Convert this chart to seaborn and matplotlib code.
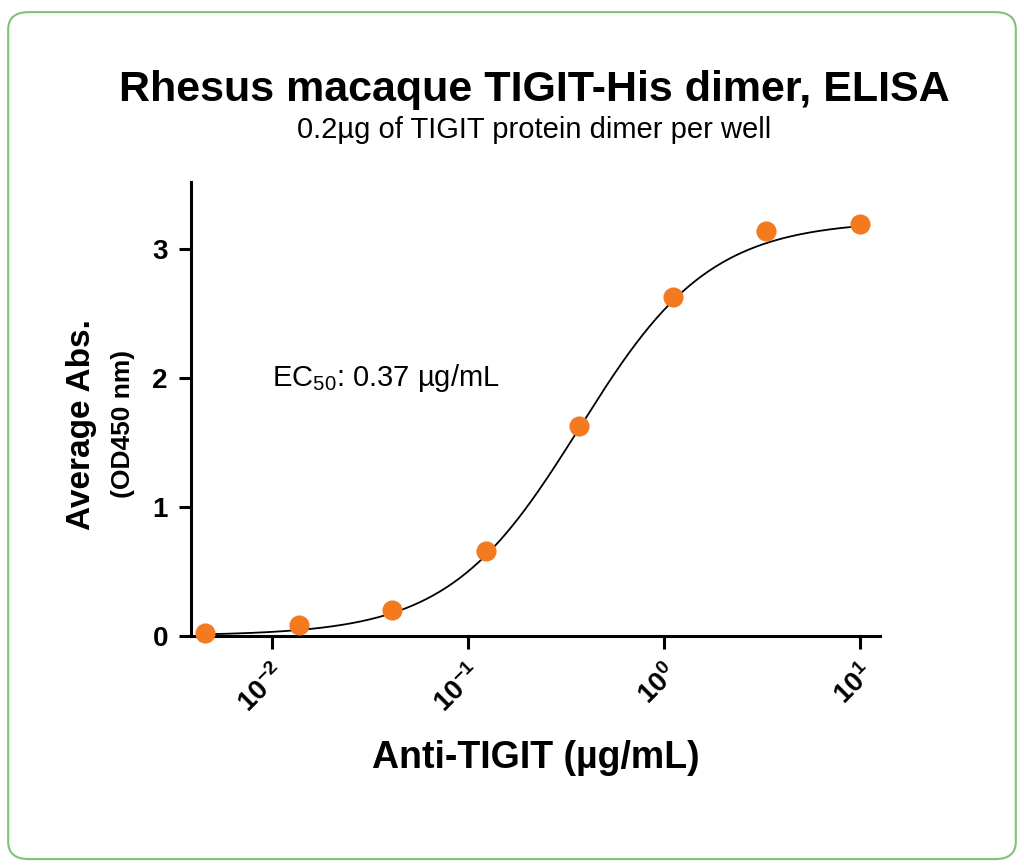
import matplotlib
matplotlib.use("Agg")
import matplotlib.pyplot as plt
import numpy as np
import seaborn as sns
from matplotlib.patches import FancyBboxPatch
from matplotlib.ticker import FixedLocator, FuncFormatter, NullLocator

# measured points
conc = [0.00457, 0.0137, 0.0412, 0.123, 0.370, 1.11, 3.33, 10.0]
absorbance = [0.02, 0.08, 0.20, 0.66, 1.63, 2.63, 3.14, 3.19]

# fitted 4PL parameters
FIT_BOTTOM = 0.0
FIT_TOP = 3.22
FIT_EC50 = 0.37
FIT_HILL = 1.3

ORANGE = "#F47A1F"

sns.set_theme(style="ticks")
plt.rcParams["font.family"] = ["Liberation Sans", "DejaVu Sans"]
plt.rcParams["text.color"] = "black"
plt.rcParams["axes.unicode_minus"] = False
plt.rcParams["mathtext.fontset"] = "custom"
plt.rcParams["mathtext.rm"] = "Liberation Sans"
plt.rcParams["mathtext.bf"] = "Liberation Sans:bold"

fig = plt.figure(figsize=(10.24, 8.66), dpi=100)
fig.patches.append(FancyBboxPatch((0.008, 0.008), 0.984, 0.978,
                                  boxstyle="round,pad=0,rounding_size=0.02",
                                  transform=fig.transFigure, fill=False,
                                  edgecolor="#7CC576", linewidth=1.5))
ax = fig.add_axes([0.187, 0.266, 0.672, 0.524])

xs = np.logspace(np.log10(conc[0]), 1, 300)
ys = FIT_BOTTOM + (FIT_TOP - FIT_BOTTOM) / (1 + (FIT_EC50 / xs) ** FIT_HILL)
sns.lineplot(x=xs, y=ys, ax=ax, color="black", linewidth=1.3)
sns.scatterplot(x=conc, y=absorbance, ax=ax, color=ORANGE, s=180,
                edgecolor=ORANGE, zorder=5, clip_on=False)

ax.set_xscale("log")
ax.set_xlim(10 ** -2.41, 10 ** 1.10)
ax.set_ylim(0, 3.52)
ax.xaxis.set_major_locator(FixedLocator([0.01, 0.1, 1, 10]))
ax.xaxis.set_minor_locator(NullLocator())
ax.xaxis.set_major_formatter(FuncFormatter(
    lambda v, _: r"$\mathbf{10^{%d}}$" % round(np.log10(v))))
ax.set_yticks([0, 1, 2, 3])
for spine in ["top", "right"]:
    ax.spines[spine].set_visible(False)
for spine in ["left", "bottom"]:
    ax.spines[spine].set_linewidth(2.2)
    ax.spines[spine].set_color("black")
ax.tick_params(axis="both", length=9, width=2.2, direction="out",
               labelsize=20, colors="black")
ax.tick_params(axis="x", pad=8)
ax.tick_params(axis="y", pad=8)
for lab in ax.get_xticklabels():
    lab.set_rotation(45)
    lab.set_ha("right")
    lab.set_rotation_mode("anchor")
for lab in ax.get_yticklabels():
    lab.set_fontweight("bold")

ax.set_xlabel("Anti-TIGIT (µg/mL)", fontsize=27, fontweight="bold",
              labelpad=16, color="black")
fig.text(0.080, 0.51, "Average Abs.", rotation=90, fontsize=24,
         fontweight="bold", ha="center", va="center")
fig.text(0.120, 0.51, "(OD450 nm)", rotation=90, fontsize=19,
         fontweight="bold", ha="center", va="center")

ax.text(0.01, 2.0, r"EC$_{50}$: 0.37 µg/mL", fontsize=21, va="center")

fig.text(0.522, 0.896, "Rhesus macaque TIGIT-His dimer, ELISA", fontsize=31,
         fontweight="bold", ha="center", va="center")
fig.text(0.522, 0.850, "0.2µg of TIGIT protein dimer per well", fontsize=21,
         ha="center", va="center")

fig.savefig("out.png", dpi=100)
